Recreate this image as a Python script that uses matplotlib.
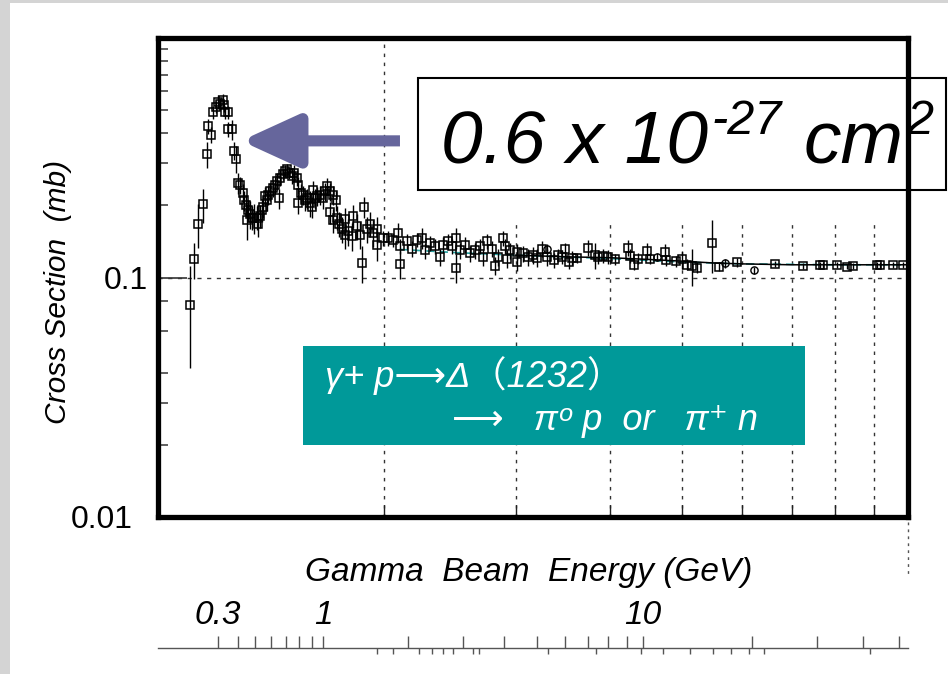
import numpy as np
import matplotlib
matplotlib.use('Agg')
import matplotlib.pyplot as plt
from matplotlib.patches import Rectangle
from matplotlib.lines import Line2D
from matplotlib.ticker import FixedLocator, NullFormatter, NullLocator

plt.rcParams['font.family'] = ['Liberation Sans', 'DejaVu Sans', 'Noto Sans CJK JP']

M_P = 0.938

# gamma p total cross section
# w_cm = sqrt(s) in GeV (the log axis of the frame), sigma in mb
w_cm = [1.103, 1.117, 1.132, 1.149, 1.162, 1.167, 1.176, 1.185, 1.194, 1.201,
        1.210, 1.222, 1.226, 1.228, 1.241, 1.241, 1.254, 1.264, 1.271, 1.280,
        1.286, 1.299, 1.302, 1.310, 1.313, 1.319, 1.326, 1.333, 1.343, 1.354,
        1.360, 1.368, 1.375, 1.382, 1.389, 1.396, 1.403, 1.410, 1.422, 1.432,
        1.440, 1.451, 1.455, 1.467, 1.477, 1.487, 1.497, 1.508, 1.518, 1.531,
        1.539, 1.539, 1.550, 1.562, 1.570, 1.582, 1.595, 1.603, 1.611, 1.620,
        1.631, 1.644, 1.658, 1.670, 1.682, 1.696, 1.696, 1.713, 1.713, 1.727,
        1.731, 1.745, 1.758, 1.775, 1.775, 1.794, 1.813, 1.822, 1.840, 1.859,
        1.869, 1.883, 1.898, 1.918, 1.937, 1.957, 1.957, 1.997, 2.028, 2.060,
        2.092, 2.103, 2.103, 2.146, 2.179, 2.213, 2.247, 2.270, 2.305, 2.341,
        2.377, 2.402, 2.439, 2.464, 2.496, 2.496, 2.527, 2.566, 2.606, 2.646,
        2.687, 2.715, 2.744, 2.786, 2.815, 2.843, 2.882, 2.902, 2.917, 2.947,
        3.008, 3.008, 3.070, 3.117, 3.165, 3.198, 3.248, 3.298, 3.373, 3.418,
        3.454, 3.489, 3.535, 3.562, 3.617, 3.748, 3.826, 3.865, 3.925, 3.986,
        4.068, 4.237, 4.259, 4.316, 4.369, 4.483, 4.529, 4.742, 4.757, 4.906,
        4.992, 5.069, 5.147, 5.227, 5.484, 5.603, 5.910, 6.645, 7.252, 7.634,
        7.712, 8.035, 8.287, 8.457, 9.085, 9.178, 9.541, 9.856]
sigma_mb = [0.077, 0.119, 0.168, 0.202, 0.327, 0.429, 0.394, 0.489, 0.514, 0.541,
            0.531, 0.550, 0.523, 0.489, 0.489, 0.415, 0.415, 0.339, 0.313, 0.248,
            0.244, 0.225, 0.210, 0.200, 0.173, 0.191, 0.184, 0.178, 0.177, 0.178,
            0.167, 0.181, 0.191, 0.197, 0.218, 0.210, 0.221, 0.229, 0.236, 0.244,
            0.252, 0.214, 0.261, 0.270, 0.279, 0.284, 0.274, 0.265, 0.274, 0.261,
            0.244, 0.204, 0.225, 0.221, 0.210, 0.214, 0.204, 0.197, 0.232, 0.214,
            0.218, 0.221, 0.214, 0.229, 0.240, 0.229, 0.187, 0.221, 0.173, 0.210,
            0.178, 0.167, 0.159, 0.175, 0.151, 0.156, 0.149, 0.181, 0.164, 0.151,
            0.115, 0.197, 0.159, 0.167, 0.154, 0.159, 0.137, 0.146, 0.146, 0.144,
            0.154, 0.135, 0.114, 0.142, 0.132, 0.144, 0.146, 0.130, 0.139, 0.135,
            0.122, 0.137, 0.142, 0.135, 0.146, 0.110, 0.130, 0.137, 0.126, 0.130,
            0.135, 0.122, 0.142, 0.132, 0.112, 0.122, 0.146, 0.135, 0.120, 0.130,
            0.128, 0.116, 0.126, 0.122, 0.124, 0.121, 0.132, 0.122, 0.118, 0.124,
            0.122, 0.131, 0.116, 0.121, 0.121, 0.133, 0.124, 0.122, 0.123, 0.122,
            0.119, 0.133, 0.123, 0.113, 0.120, 0.129, 0.120, 0.128, 0.118, 0.117,
            0.119, 0.113, 0.112, 0.110, 0.139, 0.111, 0.116, 0.114, 0.112, 0.113,
            0.113, 0.113, 0.111, 0.112, 0.113, 0.113, 0.113, 0.113]
sigma_err = [0.035, 0.020, 0.035, 0.033, 0.040, 0.030, 0.030, 0.030, 0.030, 0.035,
             0.030, 0.035, 0.030, 0.030, 0.030, 0.030, 0.040, 0.030, 0.040, 0.025,
             0.020, 0.020, 0.020, 0.020, 0.030, 0.020, 0.025, 0.020, 0.025, 0.020,
             0.020, 0.020, 0.020, 0.020, 0.020, 0.020, 0.020, 0.020, 0.020, 0.020,
             0.020, 0.020, 0.020, 0.015, 0.015, 0.015, 0.015, 0.020, 0.020, 0.020,
             0.020, 0.020, 0.020, 0.020, 0.020, 0.020, 0.025, 0.020, 0.020, 0.020,
             0.020, 0.020, 0.020, 0.020, 0.020, 0.020, 0.020, 0.020, 0.020, 0.020,
             0.020, 0.020, 0.020, 0.020, 0.020, 0.020, 0.020, 0.020, 0.020, 0.020,
             0.020, 0.020, 0.020, 0.020, 0.020, 0.020, 0.020, 0.010, 0.010, 0.010,
             0.015, 0.010, 0.015, 0.010, 0.010, 0.010, 0.015, 0.010, 0.010, 0.010,
             0.010, 0.010, 0.010, 0.010, 0.015, 0.015, 0.010, 0.010, 0.010, 0.010,
             0.010, 0.010, 0.010, 0.010, 0.010, 0.010, 0.010, 0.010, 0.010, 0.010,
             0.010, 0.010, 0.010, 0.010, 0.010, 0.010, 0.010, 0.010, 0.008, 0.008,
             0.008, 0.008, 0.008, 0.008, 0.006, 0.010, 0.015, 0.008, 0.008, 0.008,
             0.006, 0.010, 0.008, 0.006, 0.006, 0.010, 0.006, 0.010, 0.006, 0.006,
             0.010, 0.006, 0.020, 0.006, 0.035, 0.005, 0.005, 0.003, 0.003, 0.003,
             0.003, 0.003, 0.003, 0.003, 0.003, 0.003, 0.003, 0.003]

# second data set (open circles)
w_circ = [3.298, 4.623, 5.702, 6.239]
sigma_circ = [0.132, 0.122, 0.115, 0.107]
err_circ = [0.006, 0.005, 0.005, 0.004]

# fitted curves
w_fit = [3.0, 3.5, 4.0, 4.5, 5.0, 5.5, 6.0, 7.0, 8.0, 10.0]
sigma_fit = [0.124, 0.122, 0.121, 0.119, 0.117, 0.115, 0.114, 0.113, 0.113, 0.113]
w_fit2 = [2.1, 2.5, 3.0, 4.0, 5.0, 6.0, 8.0, 10.0]
sigma_fit2 = [0.131, 0.127, 0.124, 0.120, 0.116, 0.114, 0.113, 0.113]

w_grid = [2, 3, 4, 5, 6, 7, 8, 9, 10]
y_minor = [0.02, 0.03, 0.04, 0.06, 0.08, 0.2, 0.3, 0.4, 0.5, 0.6, 0.7, 0.8, 0.9]

# gamma beam energy scale under the frame
e_major = [0.3, 0.4, 0.5, 0.6, 0.7, 0.8, 0.9, 1, 2, 3, 4, 5, 6, 7, 8, 9, 10, 20, 30, 40, 50]
e_major_labels = ['0.3', '', '', '', '', '', '', '1', '', '', '', '', '', '', '', '', '10', '', '', '', '']
e_minor = [1.575, 1.786, 2.18, 2.39, 2.60, 2.79, 3.0, 3.22, 3.36, 5.37, 7.39, 9.9,
           11.4, 13.5, 15.6, 17.5, 19.6, 21.5, 41.7]


def e_to_logw(e):
    e = np.asarray(e, dtype=float)
    return np.log10(np.sqrt(np.maximum(M_P**2 + 2 * M_P * e, 1e-9)))


def logw_to_e(t):
    t = np.asarray(t, dtype=float)
    return (10 ** (2 * t) - M_P**2) / (2 * M_P)


W, H = 948, 674
fig = plt.figure(figsize=(W / 100, H / 100), dpi=100)
fig.patch.set_facecolor('#d4d4d4')
fig.add_artist(Rectangle((10 / W, 0), 1 - 10 / W, 1 - 3 / H, transform=fig.transFigure,
                         facecolor='white', edgecolor='none', zorder=-1))

ax = fig.add_axes([158 / W, 157 / H, 750 / W, 479 / H])
ax.set_xscale('log')
ax.set_yscale('log')
ax.set_xlim(1, 10)
ax.set_ylim(0.01, 1.0)

dot = (0, (2.5, 4))
ax.axhline(0.1, color='#333333', lw=1, ls=(0, (3, 4)), zorder=1)
ax.vlines(w_grid[0], 0.01, 1.0, color='#333333', lw=1, ls=dot, zorder=1)
ax.vlines(w_grid[1:], 0.01, 0.172, color='#333333', lw=1, ls=dot, zorder=1)

ax.plot(w_fit2, sigma_fit2, color='#22a0a0', lw=1.2, ls=(0, (5, 3)), zorder=2)
ax.plot(w_fit, sigma_fit, color='black', lw=1.1, zorder=2)

ax.errorbar(w_cm, sigma_mb, yerr=sigma_err, fmt='s', ms=5.4, mfc='none', mec='black',
            mew=1.1, ecolor='black', elinewidth=1.0, capsize=0, zorder=3)
ax.errorbar(w_circ, sigma_circ, yerr=err_circ, fmt='o', ms=5.2, mfc='none', mec='black',
            mew=1.0, ecolor='black', elinewidth=1.0, capsize=0, zorder=3)

ax.yaxis.set_major_locator(FixedLocator([0.01, 0.1]))
ax.set_yticklabels(['0.01', '0.1'])
ax.yaxis.set_minor_locator(FixedLocator(y_minor))
ax.yaxis.set_minor_formatter(NullFormatter())
ax.tick_params(axis='y', which='major', direction='in', length=21, width=1.2,
               color='#333333', labelsize=23, pad=7)
ax.tick_params(axis='y', which='minor', direction='in', length=7.5, width=1.2, color='#444444')
ax.yaxis.get_major_ticks()[0].set_pad(18)
ax.xaxis.set_major_locator(FixedLocator(w_grid))
ax.xaxis.set_major_formatter(NullFormatter())
ax.xaxis.set_minor_locator(NullLocator())
ax.tick_params(axis='x', which='major', direction='in', length=9, width=1, color='#222222')

for sp in ax.spines.values():
    sp.set_linewidth(3.8)

# dotted tail under the right edge of the frame
ax.add_line(Line2D([1, 1], [-0.01, -0.12], transform=ax.transAxes, clip_on=False,
                   color='#555555', lw=1, ls=(0, (2, 3))))

# arrow pointing at the Delta peak
ax.annotate('', xy=(1.29, 0.372), xytext=(2.102, 0.372),
            arrowprops=dict(arrowstyle='-|>,head_length=1.75,head_width=0.8', mutation_scale=20,
                            lw=8, color='#66669c', shrinkA=0, shrinkB=0,
                            joinstyle='round', capstyle='butt'),
            annotation_clip=False, zorder=4)

# white box with the peak value; the frame edge runs over it
ax.add_patch(Rectangle((0.3467, 0.6827), 0.704, 0.2338, transform=ax.transAxes,
                       facecolor='white', edgecolor='black', lw=1.5, zorder=2, clip_on=False))
base_y = 0.739
big = dict(fontsize=54, fontstyle='italic', va='baseline', ha='left', zorder=2,
           annotation_clip=False)
small = dict(big, fontsize=35)
t1 = ax.annotate('0.6 x 10', xy=(0.3773, base_y), xycoords='axes fraction', **big)
t2 = ax.annotate('-27', xy=(1.0, base_y), xycoords=(t1, 'axes fraction'),
                 xytext=(3, 29), textcoords='offset pixels', **small)
t3 = ax.annotate('cm', xy=(1.0, base_y), xycoords=(t2, 'axes fraction'),
                 xytext=(22, 0), textcoords='offset pixels', **big)
ax.annotate('2', xy=(1.0, base_y), xycoords=(t3, 'axes fraction'),
            xytext=(3, 29), textcoords='offset pixels', **small)

# reaction box
fig.add_artist(Rectangle((303 / W, 1 - 445 / H), 502 / W, 99 / H, transform=fig.transFigure,
                         facecolor='#009999', edgecolor='none', zorder=1))
fig.text(325 / W, 1 - 376 / H, 'γ+ p⟶Δ（1232）', color='white', fontsize=26,
         fontstyle='italic', va='center', ha='left')
fig.text(452 / W, 1 - 421 / H, '⟶   πᵒ p  or   π⁺ n', color='white', fontsize=26,
         fontstyle='italic', va='center', ha='left')

fig.text(58 / W, 1 - 292 / H, 'Cross Section  (mb)', rotation=90, fontsize=21.5,
         fontstyle='italic', ha='center', va='center')
fig.text(529 / W, 1 - 572 / H, 'Gamma  Beam  Energy (GeV)', fontsize=24,
         fontstyle='italic', ha='center', va='center')

# energy scale
axe = fig.add_axes([158 / W, 26 / H, 750 / W, 0.0001])
axe.set_xscale('function', functions=(e_to_logw, logw_to_e))
axe.set_xlim(float(logw_to_e(0.0)), float(logw_to_e(1.0)))
axe.patch.set_visible(False)
for name in ['left', 'right', 'bottom']:
    axe.spines[name].set_visible(False)
axe.spines['top'].set_color('#555555')
axe.spines['top'].set_linewidth(1)
axe.yaxis.set_visible(False)
axe.xaxis.set_ticks_position('top')
axe.xaxis.set_major_locator(FixedLocator(e_major))
axe.set_xticklabels(e_major_labels, fontstyle='italic')
axe.xaxis.set_minor_locator(FixedLocator(e_minor))
axe.xaxis.set_minor_formatter(NullFormatter())
axe.tick_params(axis='x', which='major', direction='out', length=9, width=1,
                color='#555555', labelsize=24, pad=3)
axe.tick_params(axis='x', which='minor', direction='in', length=4.5, width=1, color='#555555')

fig.savefig('out.png', dpi=100)
